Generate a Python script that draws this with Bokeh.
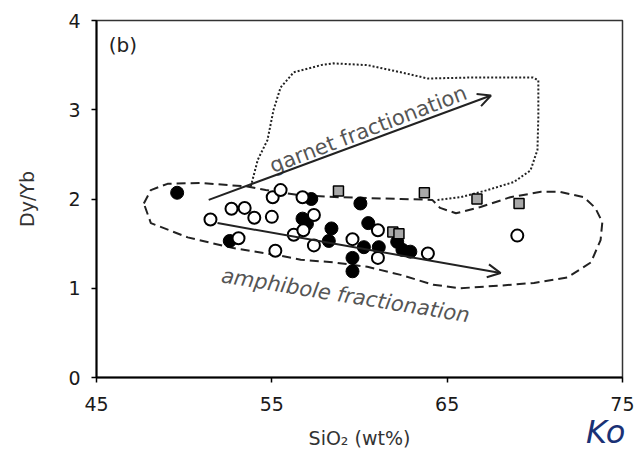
from bokeh.plotting import figure
from bokeh.models import Arrow, OpenHead, Range1d, FixedTicker, Div
from bokeh.layouts import column
from bokeh.core.properties import value
from bokeh.embed import file_html
from bokeh.resources import INLINE

# ---- data ----
filled_x = [49.6, 52.6, 56.75, 57.0, 57.25, 58.4, 58.25, 60.05, 60.5, 59.6, 59.6, 60.25, 61.1, 62.15, 62.45, 62.9]
filled_y = [2.07, 1.53, 1.78, 1.72, 2.00, 1.67, 1.53, 1.95, 1.73, 1.34, 1.19, 1.46, 1.46, 1.52, 1.43, 1.41]

open_x = [51.5, 52.7, 53.45, 54.0, 53.1, 55.0, 55.2, 55.05, 55.5, 56.75, 57.4, 56.25, 56.8, 57.4, 59.6, 61.05, 61.05, 63.9, 69.0]
open_y = [1.77, 1.89, 1.90, 1.79, 1.56, 1.80, 1.42, 2.02, 2.10, 2.02, 1.82, 1.60, 1.65, 1.48, 1.55, 1.65, 1.34, 1.39, 1.59]

square_x = [58.8, 63.7, 66.7, 69.1, 61.9, 62.25]
square_y = [2.09, 2.07, 2.00, 1.95, 1.63, 1.61]

# amphibole field (dashed)
amph_x = [47.7, 48.1, 49.05, 50.9, 53.6, 54.65, 56.65, 58.9, 62.35, 64.15, 64.6, 65.5, 66.9, 68.6, 70.35,
          71.45, 72.8, 73.45, 73.85, 73.75, 73.2, 71.85, 69.95, 68.05, 65.75, 64.2, 62.35, 60.45, 58.5,
          56.65, 55.35, 52.8, 50.2, 48.1, 47.7]
amph_y = [1.95, 2.10, 2.17, 2.18, 2.14, 2.10, 2.04, 2.02, 2.00, 1.99, 1.90, 1.84, 1.91, 2.02, 2.08,
          2.08, 2.02, 1.90, 1.74, 1.54, 1.29, 1.12, 1.06, 1.03, 1.00, 1.04, 1.15, 1.24, 1.29,
          1.32, 1.37, 1.45, 1.57, 1.73, 1.95]

# garnet field (dotted)
garnet_x = [53.8, 54.2, 54.75, 55.1, 55.5, 56.25, 57.8, 58.5, 60.45, 62.35, 63.9, 66.15, 69.9, 70.2,
            70.2, 70.15, 69.75, 68.8, 67.3, 65.75, 64.45]
garnet_y = [2.14, 2.44, 2.66, 3.00, 3.25, 3.42, 3.50, 3.52, 3.50, 3.42, 3.35, 3.36, 3.36, 3.33,
            2.92, 2.55, 2.32, 2.19, 2.10, 2.02, 1.99]

garnet_arrow_x = [51.4, 67.5]
garnet_arrow_y = [1.99, 3.16]
amph_arrow_x = [51.9, 68.05]
amph_arrow_y = [1.73, 1.17]

x_ticks = [45, 55, 65, 75]
y_ticks = [0, 1, 2, 3, 4]

FONT = "DejaVu Sans"

p = figure(width=634, height=451,
           output_backend="svg", toolbar_location=None,
           x_range=Range1d(45, 75), y_range=Range1d(0, 4),
           min_border_left=96, min_border_right=12, min_border_top=20, min_border_bottom=73)
p.background_fill_color = "white"
p.border_fill_color = "white"
p.outline_line_color = "#333333"
p.outline_line_width = 1.5
p.grid.visible = False

for ax in (p.xaxis, p.yaxis):
    ax.axis_line_color = "black"
    ax.axis_line_width = 2
    ax.major_tick_line_color = "black"
    ax.major_tick_line_width = 1.5
    ax.major_tick_in = 0
    ax.major_tick_out = 5
    ax.minor_tick_line_color = None
    ax.major_label_text_font = FONT
    ax.major_label_text_font_size = "19px"
    ax.major_label_text_color = "#1a1a1a"
    ax.axis_label_text_font = FONT
    ax.axis_label_text_font_size = "19px"
    ax.axis_label_text_font_style = "normal"
    ax.axis_label_text_color = "#333333"

p.xaxis.ticker = FixedTicker(ticks=x_ticks)
p.yaxis.ticker = FixedTicker(ticks=y_ticks)
p.xaxis.axis_label = "SiO₂ (wt%)"
p.yaxis.axis_label = "Dy/Yb"
p.xaxis.major_label_standoff = 14
p.yaxis.major_label_standoff = 11
p.xaxis.axis_label_standoff = 13
p.yaxis.axis_label_standoff = 27

# fields
p.line(amph_x, amph_y, line_color="#222222", line_width=2, line_dash="9 5")
p.line(garnet_x, garnet_y, line_color="#222222", line_width=2, line_dash="2 2")

# arrows
p.add_layout(Arrow(end=OpenHead(size=13, line_width=2, line_color="#222222"),
                   x_start=garnet_arrow_x[0], y_start=garnet_arrow_y[0],
                   x_end=garnet_arrow_x[1], y_end=garnet_arrow_y[1],
                   line_width=2, line_color="#222222"))
p.add_layout(Arrow(end=OpenHead(size=13, line_width=2, line_color="#222222"),
                   x_start=amph_arrow_x[0], y_start=amph_arrow_y[0],
                   x_end=amph_arrow_x[1], y_end=amph_arrow_y[1],
                   line_width=2, line_color="#222222"))

# points
p.scatter(filled_x, filled_y, marker="circle", size=13, fill_color="black", line_color="black", line_width=1)
p.scatter(open_x, open_y, marker="circle", size=12, fill_color="white", line_color="black", line_width=2)
p.scatter(square_x, square_y, marker="square", size=10, fill_color="#a8a8a8", line_color="black", line_width=1.5)

# labels
p.text(x=[60.5], y=[2.78], text=["garnet fractionation"], angle=0.365,
       text_font=value(FONT), text_font_size="21px", text_color="#555555",
       text_align="center", text_baseline="alphabetic")
p.text(x=[59.2], y=[0.92], text=["amphibole fractionation"], angle=-0.16,
       text_font=value(FONT), text_font_size="21px", text_font_style="italic", text_color="#555555",
       text_align="center", text_baseline="alphabetic")
p.text(x=[45.7], y=[3.72], text=["(b)"],
       text_font=value(FONT), text_font_size="20px", text_color="#222222",
       text_align="left", text_baseline="middle")

ko = Div(text="Ko", width=46, height=38, margin=(-38, 0, 0, 586),
         styles={"font-family": "DejaVu Sans", "font-style": "italic", "font-size": "32px",
                 "color": "#1a3175", "overflow": "hidden", "line-height": "38px"})

layout = column(p, ko, spacing=0)
open("out.html", "w").write(file_html(layout, INLINE))
